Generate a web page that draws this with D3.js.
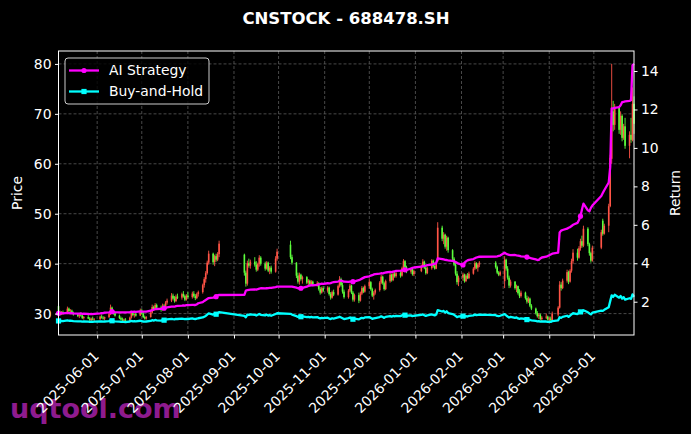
<!DOCTYPE html>
<html>
<head>
<meta charset="utf-8">
<script src="https://cdn.jsdelivr.net/npm/d3@7"></script>
<style>
  body { margin: 0; background: #000; }
  svg { display: block; font-family: "DejaVu Sans", sans-serif; }
</style>
</head>
<body>
<svg></svg>
<script>
// trading calendar: weekdays between these dates, minus closed days / missing data
const startDate = "2025-05-06";
const endDate = "2026-05-28";
const closedDays = [
  "2025-06-02",
  "2025-08-25", "2025-08-26", "2025-08-27", "2025-08-28", "2025-08-29",
  "2025-09-01", "2025-09-02", "2025-09-03", "2025-09-04", "2025-09-05",
  "2025-10-01", "2025-10-02", "2025-10-03", "2025-10-06", "2025-10-07", "2025-10-08",
  "2026-01-01", "2026-01-02",
  "2026-02-16", "2026-02-17", "2026-02-18", "2026-02-19", "2026-02-20", "2026-02-23",
  "2026-04-06",
  "2026-05-01", "2026-05-04", "2026-05-05"
];

// daily candles [open, high, low, close]
const candles = [
  [31.5,31.9,30.0,30.2],[30.2,30.6,29.6,29.9],[29.9,30.5,29.7,30.3],[30.3,30.6,29.8,30.0],
  [30.0,31.4,29.9,31.0],[31.0,31.2,30.3,30.5],[30.5,30.9,30.1,30.6],[30.6,30.8,29.9,30.1],[30.1,30.4,29.6,29.8],
  [29.8,30.1,29.3,29.5],[29.5,29.9,29.1,29.7],[29.7,30.2,29.4,29.6],[29.6,29.8,28.9,29.1],[29.1,29.5,28.8,29.3],
  [29.3,29.8,28.9,29.0],[29.0,29.3,28.5,28.7],[28.7,29.2,28.4,29.0],[29.0,29.4,28.6,28.8],[28.8,29.1,28.4,28.9],
  [28.9,29.6,28.7,29.4],[29.4,29.8,29.0,29.2],[29.2,29.5,28.8,29.0],[29.0,29.4,28.7,29.3],
  [29.3,30.2,29.1,29.9],[29.9,31.8,29.7,31.2],[31.2,31.4,30.2,30.4],[30.4,30.7,29.8,30.0],[30.0,30.3,29.4,29.6],
  [29.6,29.8,28.9,29.1],[29.1,29.4,28.6,28.8],[28.8,29.2,28.4,28.6],[28.6,29.0,28.3,28.8],[28.8,29.1,28.4,28.5],
  [28.5,29.4,28.4,29.2],[29.2,30.4,29.0,30.1],[30.1,30.3,29.5,29.7],[29.7,30.0,29.2,29.9],[29.9,30.2,29.4,29.6],
  [29.6,31.0,29.5,30.6],[30.6,30.9,29.8,30.0],[30.0,30.3,29.1,29.3],[29.3,29.6,28.8,29.0],[29.0,29.5,28.8,29.3],
  [29.3,30.5,29.2,30.2],[30.2,31.8,30.0,31.3],[31.3,31.6,30.6,30.9],[30.9,32.1,30.7,31.7],[31.7,32.0,31.0,31.2],
  [31.2,31.6,30.4,30.8],[30.8,32.0,30.6,31.6],[31.6,31.9,31.0,31.3],[31.3,32.5,31.1,32.2],[32.2,33.0,31.8,32.6],
  [32.6,34.1,32.3,33.6],[33.6,34.0,32.8,33.0],[33.0,33.5,32.2,32.5],[32.5,33.8,32.3,33.4],[33.4,34.0,32.9,33.2],
  [33.2,34.2,32.8,33.9],[33.9,34.5,33.2,33.5],[33.5,33.8,32.5,32.8],[32.8,33.9,32.6,33.6],[33.6,34.3,33.0,33.3],
  [33.3,34.4,33.0,34.0],[34.0,34.5,33.2,33.5],[33.5,33.9,32.7,33.1],[33.1,34.2,32.9,33.9],[33.9,34.6,33.4,34.3],
  [34.3,36.0,34.0,35.7],[35.7,37.3,35.2,36.9],[36.9,38.5,36.2,38.1],[38.1,40.6,37.8,40.2],[40.2,42.6,39.8,42.0],
  [42.0,42.2,39.8,40.3],[40.3,41.8,39.5,41.5],[41.5,42.0,40.4,40.8],[40.8,42.3,40.5,41.9],[41.9,44.6,41.3,44.0],
  [41.8,42.0,37.6,38.2],[38.2,38.6,35.4,36.0],[36.0,40.6,35.6,40.1],[40.1,41.0,39.2,39.6],[39.6,40.8,39.0,40.4],
  [40.4,41.3,39.4,39.8],[39.8,40.5,38.4,38.8],[38.8,40.2,38.5,39.9],[39.9,41.7,39.4,41.2],[41.2,41.5,39.6,40.0],
  [40.0,40.4,38.6,39.0],[39.0,40.5,38.8,40.2],[40.2,40.4,38.3,38.6],[38.6,39.5,37.9,39.2],[39.2,39.6,38.0,38.4],
  [38.4,41.5,38.2,41.0],[41.0,43.0,40.6,42.4],[43.8,44.6,40.9,41.3],[41.3,41.8,39.8,40.2],
  [40.2,40.3,37.1,37.6],[37.6,38.2,36.0,36.4],[36.4,38.2,35.8,37.8],[37.8,38.0,36.6,36.9],[36.9,37.6,36.0,37.3],
  [37.3,37.5,35.9,36.2],[36.2,36.9,35.5,36.6],[36.6,36.8,35.7,35.9],[35.9,36.7,35.6,36.4],[36.4,36.6,35.5,35.8],
  [35.8,36.5,35.4,36.1],[36.1,36.3,34.6,34.9],[34.9,35.3,33.8,34.2],[34.2,35.4,34.0,35.1],[35.1,35.5,34.3,34.6],
  [34.6,35.5,34.2,35.2],[35.2,35.4,33.6,33.9],[33.9,34.3,32.8,33.2],[33.2,34.6,33.0,34.3],[34.3,34.8,33.5,33.8],
  [33.8,35.8,33.6,35.5],[35.5,37.5,35.2,36.9],[36.9,37.2,35.4,35.7],[35.7,36.2,34.0,34.4],[34.4,34.8,33.0,33.3],
  [33.3,34.9,33.0,34.6],[34.6,36.0,34.3,35.6],[35.6,35.8,33.9,34.2],[34.2,34.5,32.4,32.8],[32.8,34.0,32.4,33.7],
  [33.7,34.2,32.1,32.6],[32.6,34.4,32.4,34.0],[34.0,35.5,33.7,35.1],[35.1,35.4,34.1,34.4],[34.4,35.8,34.2,35.5],
  [35.5,36.9,35.0,36.3],[36.3,36.5,34.6,34.9],[34.9,35.2,33.3,33.6],[33.6,34.5,32.8,34.2],[34.2,35.0,33.8,34.7],
  [34.7,36.5,34.4,36.2],[36.2,37.8,35.9,37.4],[37.4,37.6,35.8,36.1],[36.1,36.4,34.6,34.9],[34.9,36.8,34.7,36.5],
  [36.5,38.2,36.2,37.8],[37.8,38.0,36.4,36.7],[36.7,38.3,36.5,38.0],[38.0,38.5,37.2,37.5],[37.5,38.4,37.2,38.1],
  [38.1,38.6,37.2,37.6],[37.6,39.4,37.4,39.1],[39.1,40.9,38.8,40.5],[40.5,40.7,39.0,39.3],[39.3,39.6,38.1,38.4],
  [38.4,39.2,38.0,38.9],[38.9,39.1,37.6,37.9],[37.9,38.8,37.5,38.5],
  [38.5,39.8,38.3,39.5],[39.5,40.9,39.2,40.4],[40.4,40.6,38.9,39.2],[39.2,39.6,37.8,38.1],[38.1,39.4,37.9,39.1],
  [39.1,40.9,38.8,40.6],[40.6,40.8,39.2,39.5],[39.5,40.2,38.8,39.0],[39.0,40.6,38.9,40.3],[40.5,48.3,40.4,47.2],
  [47.2,47.6,44.5,45.0],[45.0,46.3,43.9,45.8],[45.8,46.0,43.0,43.4],[43.4,45.6,42.6,45.2],[45.2,45.4,42.2,42.7],
  [42.7,42.9,40.6,41.0],[41.0,41.3,39.5,39.8],[39.8,40.1,37.6,38.0],[38.0,38.5,35.8,36.3],[36.3,37.6,35.5,37.2],
  [37.2,38.2,36.6,37.8],[37.8,38.0,36.2,36.5],[36.5,37.9,36.3,37.6],[37.6,38.1,36.9,37.1],[37.1,38.4,36.9,38.0],
  [38.0,39.3,37.8,39.0],[39.0,40.5,38.7,40.1],[40.1,40.3,38.9,39.2],[39.2,40.1,38.4,39.8],[39.8,40.5,39.3,40.2],
  [40.2,40.5,39.0,39.3],[39.3,39.6,37.9,38.2],[38.2,38.5,37.5,37.8],[37.8,38.6,37.5,38.3],
  [36.5,41.5,35.1,40.8],[40.8,41.0,38.6,39.0],[39.0,39.5,36.8,37.2],[37.2,37.6,35.1,35.6],[35.6,36.8,35.2,36.4],
  [36.4,36.5,34.8,35.1],[35.1,35.8,34.3,35.5],[35.5,35.6,33.8,34.1],[34.1,34.9,33.1,33.5],[33.5,34.6,33.2,34.2],
  [34.2,34.4,32.8,33.1],[33.1,33.6,32.0,32.4],[32.4,33.4,32.1,33.0],[33.0,33.2,31.3,31.6],[31.6,31.9,30.7,31.0],
  [31.0,31.2,29.8,30.1],[30.1,30.5,29.2,29.5],[29.5,30.1,28.9,29.8],[29.8,30.0,28.6,28.9],[28.9,29.5,28.4,29.2],
  [29.2,30.0,28.9,29.4],[29.4,29.6,28.6,28.8],[28.8,29.3,28.4,29.0],[29.0,29.4,28.5,28.7],[28.7,30.4,28.5,30.0],
  [29.8,31.5,29.4,31.2],[31.2,36.5,31.0,35.8],[35.8,36.3,34.6,35.1],[35.1,37.0,34.9,36.6],
  [36.6,38.8,36.2,38.3],[38.3,38.6,35.9,36.4],[36.4,38.9,36.2,38.6],[38.6,41.0,38.2,40.5],[40.5,42.9,40.0,42.2],
  [42.2,43.0,40.6,41.2],[41.2,43.5,41.0,43.1],[43.1,45.0,42.6,44.5],[44.5,45.6,43.2,43.6],[43.6,47.6,43.3,47.0],
  [47.0,47.3,43.5,43.9],[43.9,44.2,41.6,42.1],[42.1,42.4,40.2,40.6],[40.6,43.6,40.4,43.2],
  [43.2,46.8,42.9,46.3],[48.6,49.0,45.6,46.0],[46.0,48.0,45.8,47.6],
  [47.6,52.0,46.3,51.5],[51.5,61.8,51.3,61.2],[61.0,80.0,60.0,70.5],[70.5,72.6,66.5,67.8],[67.8,72.0,66.8,71.2],
  [71.2,71.5,66.0,66.8],[66.8,70.5,65.8,69.6],[69.6,69.9,64.5,65.2],[65.2,68.0,64.8,67.5],[67.5,69.2,63.0,63.6],
  [63.6,66.5,61.1,65.8],[65.8,69.2,64.2,64.8],[64.8,75.3,64.5,72.0],[72.0,73.5,66.0,68.0]
];

const aiStrategy = [
  1.40,1.41,1.40,1.39, 1.42,1.41,1.40,1.40,1.39, 1.38,1.38,1.39,1.37,1.38, 1.37,1.36,1.37,1.36,1.37,
  1.39,1.40,1.41,1.43, 1.45,1.47,1.48,1.47,1.46, 1.45,1.45,1.44,1.45,1.44, 1.46,1.48,1.47,1.48,1.47,
  1.50,1.49,1.48,1.48,1.49, 1.53,1.57,1.58,1.61,1.62, 1.63,1.65,1.66,1.68,1.70, 1.74,1.75,1.74,1.77,1.78,
  1.80,1.81,1.80,1.82,1.82, 1.84,1.83,1.83,1.86,1.92, 1.98,2.04,2.09,2.14,2.19, 2.21,2.24,2.26,2.33,2.35,
  2.36,2.58,2.60,2.62,2.63, 2.64,2.63,2.65,2.68,2.70, 2.69,2.70,2.71,2.72,2.72, 2.76,2.78,2.79,2.78,
  2.73,2.70,2.71,2.70,2.72, 2.78,2.82,2.84,2.86,2.85, 2.88,2.90,2.92,2.94,2.93,
  2.96,2.95,2.97,3.00,3.02, 3.05,3.08,3.10,3.07,3.04, 3.03,3.05,3.04,3.04,3.06, 3.12,3.16,3.20,3.24,3.28,
  3.32,3.36,3.38,3.42,3.44, 3.46,3.48,3.47,3.50,3.52, 3.55,3.54,3.56,3.58,3.60, 3.62,3.63,3.65,3.66,3.65,
  3.72,3.76,3.78,
  3.82,3.85,3.86,3.88,3.90, 3.93,3.96,3.98,4.00,4.26, 4.22,4.20,4.18,4.17,4.15, 4.12,4.10,4.06,4.02,3.98,
  3.91,4.02,4.10,4.15,4.18, 4.22,4.26,4.30,4.32,4.34, 4.35,4.36,4.38,4.40,
  4.55,4.50,4.46,4.44,4.42, 4.43,4.41,4.40,4.38,4.36, 4.34,4.32,4.30,4.28,4.26, 4.20,4.17,4.18,4.25,4.30,
  4.34,4.38,4.42,4.46,4.50, 4.55,5.60,5.70,5.73, 5.80,5.85,5.88,5.94,6.00, 6.10,6.25,6.45,6.80,7.10,
  6.75,6.70,6.88,7.00, 7.50,7.65,7.80, 8.20,9.00,12.06,12.06,12.08, 12.12,12.22,12.38,12.40,12.42,
  12.45,12.48,14.30,14.37
];

const buyHold = [
  1.00,0.99,1.00,0.99, 1.03,1.01,1.01,1.00,0.99, 0.98,0.98,0.98,0.96,0.97, 0.96,0.95,0.96,0.95,0.96,
  0.97,0.97,0.96,0.97, 0.99,1.03,1.01,0.99,0.98, 0.96,0.95,0.95,0.95,0.94, 0.97,1.00,0.98,0.99,0.98,
  1.01,0.99,0.97,0.96,0.97, 1.00,1.04,1.02,1.05,1.03, 1.02,1.05,1.04,1.07,1.08, 1.11,1.09,1.08,1.11,1.10,
  1.12,1.11,1.09,1.11,1.10, 1.13,1.11,1.10,1.12,1.14, 1.18,1.22,1.26,1.33,1.39, 1.33,1.37,1.35,1.39,1.46,
  1.26,1.19,1.33,1.31,1.34, 1.32,1.28,1.32,1.36,1.32, 1.29,1.33,1.28,1.30,1.27, 1.36,1.40,1.37,1.33,
  1.25,1.21,1.25,1.22,1.24, 1.20,1.21,1.19,1.21,1.19, 1.20,1.16,1.13,1.16,1.15,
  1.17,1.12,1.10,1.14,1.12, 1.18,1.22,1.18,1.14,1.10, 1.15,1.18,1.13,1.09,1.12, 1.08,1.13,1.16,1.14,1.18,
  1.20,1.16,1.11,1.13,1.15, 1.20,1.24,1.20,1.16,1.21, 1.25,1.22,1.26,1.24,1.26, 1.25,1.29,1.34,1.30,1.27,
  1.29,1.25,1.27,
  1.31,1.34,1.30,1.26,1.29, 1.34,1.31,1.29,1.33,1.56, 1.49,1.52,1.44,1.50,1.41, 1.36,1.32,1.26,1.20,1.23,
  1.25,1.21,1.25,1.23,1.26, 1.29,1.33,1.30,1.32,1.33, 1.30,1.26,1.25,1.27,
  1.35,1.29,1.23,1.18,1.21, 1.16,1.18,1.13,1.11,1.13, 1.10,1.07,1.09,1.05,1.03, 1.00,0.98,0.99,0.96,0.97,
  0.97,0.95,0.96,0.95,0.99, 1.03,1.19,1.16,1.21, 1.27,1.21,1.28,1.34,1.40, 1.36,1.43,1.47,1.44,1.56,
  1.45,1.39,1.34,1.43, 1.53,1.52,1.58, 1.71,2.03,2.33,2.25,2.36, 2.21,2.30,2.16,2.24,2.11,
  2.18,2.15,2.38,2.25
];

const seriesNames = ["AI Strategy", "Buy-and-Hold"];
const priceTicks = [30, 40, 50, 60, 70, 80];
const returnTicks = [2, 4, 6, 8, 10, 12, 14];

const width = 691, height = 434;
const margin = { top: 51, right: 57, bottom: 99, left: 58.5 };
const upColor = "#ff5446", downColor = "#5cff3c";
const lineColors = ["#ff00ff", "#00ffff"];
const fontSize = "13.9px";

const parseDay = d3.timeParse("%Y-%m-%d");
const fmtDay = d3.timeFormat("%Y-%m-%d");
const closedSet = new Set(closedDays);
const days = d3.timeDay.range(parseDay(startDate), d3.timeDay.offset(parseDay(endDate), 1))
    .filter(d => d.getDay() !== 0 && d.getDay() !== 6 && !closedSet.has(fmtDay(d)));
const n = Math.min(days.length, candles.length, aiStrategy.length, buyHold.length);

const svg = d3.select("svg").attr("width", width).attr("height", height);
svg.append("rect").attr("width", width).attr("height", height).attr("fill", "#000");

const x0 = margin.left, x1 = width - margin.right;
const y0 = margin.top, y1 = height - margin.bottom;

const x = d3.scaleTime().domain([days[0], days[n - 1]]).range([x0, x1]);

// 5% padding like matplotlib autoscale
const pLo = d3.min(candles, d => d[2]), pHi = d3.max(candles, d => d[1]);
const pPad = (pHi - pLo) * 0.05;
const y = d3.scaleLinear().domain([pLo - pPad, pHi + pPad]).range([y1, y0]);

const rLo = Math.min(d3.min(aiStrategy), d3.min(buyHold));
const rHi = Math.max(d3.max(aiStrategy), d3.max(buyHold));
const rPad = (rHi - rLo) * 0.05;
const yr = d3.scaleLinear().domain([rLo - rPad, rHi + rPad]).range([y1, y0]);

// watermark (sits under the tick labels)
svg.append("text")
    .attr("x", 10).attr("y", 418)
    .style("font-size", "27px").style("font-weight", "bold")
    .style("fill", "#8e1b8e")
    .text("uqtool.com");

// grid
const monthTicks = x.ticks(d3.timeMonth.every(1));
const grid = svg.append("g").attr("stroke", "#5a5a5a").attr("stroke-width", 0.8)
    .attr("stroke-dasharray", "3,2");
grid.selectAll(".gy").data(priceTicks).enter().append("line")
    .attr("x1", x0).attr("x2", x1)
    .attr("y1", d => y(d)).attr("y2", d => y(d));
grid.selectAll(".gx").data(monthTicks).enter().append("line")
    .attr("x1", d => x(d)).attr("x2", d => x(d))
    .attr("y1", y0).attr("y2", y1);

// candles
const cg = svg.append("g");
const data = candles.slice(0, n).map((c, i) => ({ date: days[i], o: c[0], h: c[1], l: c[2], c: c[3] }));
cg.selectAll(".wick").data(data).enter().append("line")
    .attr("x1", d => x(d.date)).attr("x2", d => x(d.date))
    .attr("y1", d => y(d.h)).attr("y2", d => y(d.l))
    .attr("stroke", d => d.c >= d.o ? upColor : downColor)
    .attr("stroke-width", 0.9);
cg.selectAll(".body").data(data).enter().append("rect")
    .attr("x", d => x(d.date) - 0.8)
    .attr("width", 1.6)
    .attr("y", d => y(Math.max(d.o, d.c)))
    .attr("height", d => Math.max(0.6, Math.abs(y(d.o) - y(d.c))))
    .attr("fill", d => d.c >= d.o ? upColor : downColor);

// return lines
const series = [aiStrategy, buyHold];
const line = d3.line().x((d, i) => x(days[i])).y(d => yr(d));
[1, 0].forEach(k => {
    const vals = series[k].slice(0, n);
    svg.append("path").datum(vals)
        .attr("fill", "none")
        .attr("stroke", lineColors[k])
        .attr("stroke-width", 2.3)
        .attr("stroke-linejoin", "round")
        .attr("d", line);
    const marks = vals.map((v, i) => ({ v, i })).filter(d => d.i % 25 === 0);
    if (k === 0) {
        svg.selectAll(".m0").data(marks).enter().append("circle")
            .attr("cx", d => x(days[d.i])).attr("cy", d => yr(d.v))
            .attr("r", 2.6).attr("fill", lineColors[k]);
    } else {
        svg.selectAll(".m1").data(marks).enter().append("rect")
            .attr("x", d => x(days[d.i]) - 2.6).attr("y", d => yr(d.v) - 2.6)
            .attr("width", 5.2).attr("height", 5.2).attr("fill", lineColors[k]);
    }
});

// spines
svg.append("rect")
    .attr("x", x0).attr("y", y0)
    .attr("width", x1 - x0).attr("height", y1 - y0)
    .attr("fill", "none").attr("stroke", "#fff").attr("stroke-width", 1);

function styleAxis(g) {
    g.select(".domain").remove();
    g.selectAll(".tick line").attr("stroke", "#fff");
    g.selectAll(".tick text").attr("fill", "#fff").style("font-size", fontSize)
        .style("font-family", "DejaVu Sans");
}

svg.append("g")
    .attr("transform", `translate(${x0},0)`)
    .call(d3.axisLeft(y).tickValues(priceTicks).tickSize(3.5).tickPadding(3.5))
    .call(styleAxis);

svg.append("g")
    .attr("transform", `translate(${x1},0)`)
    .call(d3.axisRight(yr).tickValues(returnTicks).tickSize(3.5).tickPadding(3.5))
    .call(styleAxis);

const xAxis = svg.append("g")
    .attr("transform", `translate(0,${y1})`)
    .call(d3.axisBottom(x).tickValues(monthTicks).tickFormat(fmtDay).tickSize(3.5))
    .call(styleAxis);
xAxis.selectAll(".tick text")
    .attr("text-anchor", "end")
    .attr("dy", null).attr("y", null)
    .attr("transform", "translate(2,22) rotate(-45)");

// axis titles
svg.append("text")
    .attr("transform", `translate(22,${(y0 + y1) / 2}) rotate(-90)`)
    .attr("text-anchor", "middle")
    .style("font-size", fontSize).style("fill", "#fff")
    .text("Price");
svg.append("text")
    .attr("transform", `translate(680,${(y0 + y1) / 2}) rotate(-90)`)
    .attr("text-anchor", "middle")
    .style("font-size", fontSize).style("fill", "#fff")
    .text("Return");

// title
svg.append("text")
    .attr("x", 346).attr("y", 24)
    .attr("text-anchor", "middle")
    .style("font-size", "16.5px").style("font-weight", "bold").style("fill", "#fff")
    .text("CNSTOCK - 688478.SH");

// legend
const legend = svg.append("g").attr("transform", "translate(65,58)");
legend.append("rect")
    .attr("width", 144).attr("height", 46).attr("rx", 3)
    .attr("fill", "#000").attr("fill-opacity", 0.8)
    .attr("stroke", "#cccccc").attr("stroke-width", 1);
seriesNames.forEach((name, i) => {
    const row = legend.append("g").attr("transform", `translate(0,${12.5 + i * 21})`);
    row.append("line")
        .attr("x1", 4).attr("x2", 34)
        .attr("stroke", lineColors[i]).attr("stroke-width", 2.3);
    if (i === 0) {
        row.append("circle").attr("cx", 19).attr("r", 2.6).attr("fill", lineColors[i]);
    } else {
        row.append("rect").attr("x", 16.4).attr("y", -2.6).attr("width", 5.2).attr("height", 5.2)
            .attr("fill", lineColors[i]);
    }
    row.append("text")
        .attr("x", 44).attr("dy", "0.35em")
        .style("font-size", fontSize).style("fill", "#fff")
        .text(name);
});
</script>
</body>
</html>
